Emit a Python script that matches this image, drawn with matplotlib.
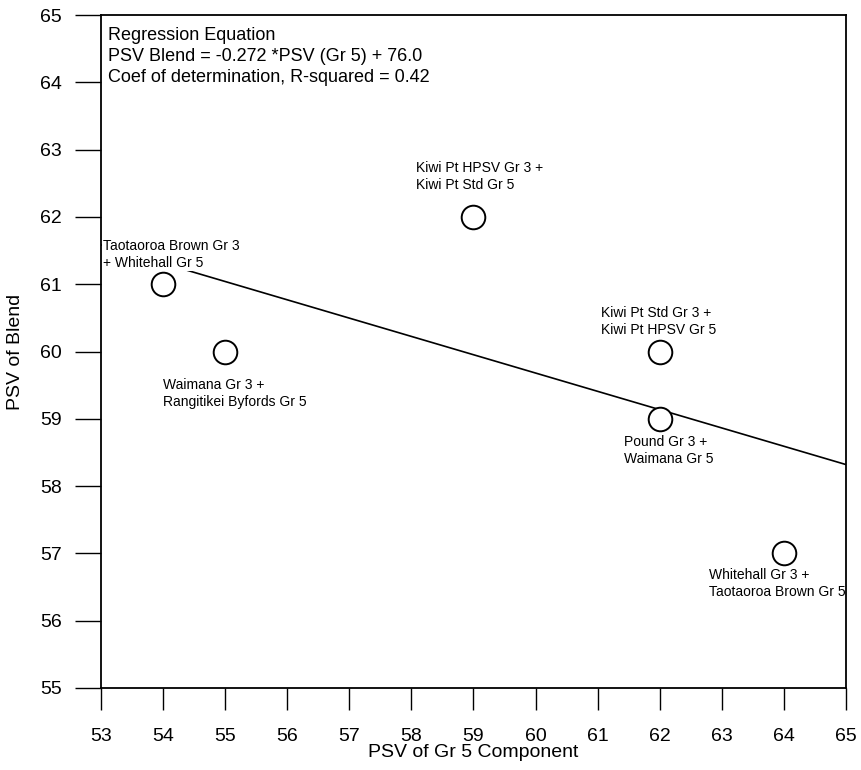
import numpy as np
import matplotlib
matplotlib.use("Agg")
import matplotlib.pyplot as plt

plt.rcParams['font.family'] = ['Liberation Sans', 'DejaVu Sans']

# data: PSV of Gr 5 component vs PSV of blend
psv_gr5 = [54, 55, 59, 62, 62, 64]
psv_blend = [61, 60, 62, 60, 59, 57]
blend_names = [
    "Taotaoroa Brown Gr 3\n+ Whitehall Gr 5",
    "Waimana Gr 3 +\nRangitikei Byfords Gr 5",
    "Kiwi Pt HPSV Gr 3 +\nKiwi Pt Std Gr 5",
    "Kiwi Pt Std Gr 3 +\nKiwi Pt HPSV Gr 5",
    "Pound Gr 3 +\nWaimana Gr 5",
    "Whitehall Gr 3 +\nTaotaoroa Brown Gr 5",
]
# label anchor (left, centre) in data units
label_x = [53.03, 54.0, 58.08, 61.05, 61.42, 62.79]
label_y = [61.44, 59.38, 62.60, 60.45, 58.53, 56.55]

slope = -0.272
intercept = 76.0
r_squared = 0.42

x_ticks = np.arange(53, 66, 1)
y_ticks = np.arange(55, 66, 1)

fig = plt.figure(figsize=(8.62, 7.70), dpi=100)
ax = fig.add_axes([0.1172, 0.1065, 0.8642, 0.874])

# regression line across the whole axis
xr = np.array([x_ticks[0], x_ticks[-1]])
ax.plot(xr, slope * xr + intercept, color='black', lw=1.2, zorder=1)

ax.plot(psv_gr5, psv_blend, 'o', ms=17, mfc='white', mec='black', mew=1.4, zorder=3)

for name, lx, ly in zip(blend_names, label_x, label_y):
    ax.text(lx, ly, name, fontsize=10, ha='left', va='center', linespacing=1.3,
            bbox=dict(facecolor='white', edgecolor='none', pad=0.5), zorder=2)

ax.text(0.009, 0.982,
        "Regression Equation\n"
        "PSV Blend = %.3f *PSV (Gr 5) + %.1f\n"
        "Coef of determination, R-squared = %.2f" % (slope, intercept, r_squared),
        transform=ax.transAxes, fontsize=13, ha='left', va='top', linespacing=1.3)

ax.set_xlim(53, 65)
ax.set_ylim(55, 65)
ax.set_xticks(x_ticks)
ax.set_yticks(y_ticks)
ax.tick_params(axis='x', direction='out', length=16, width=1.0, labelsize=14, pad=13)
ax.tick_params(axis='y', direction='out', length=19, width=1.0, labelsize=14, pad=9)
for sp in ax.spines.values():
    sp.set_linewidth(1.3)

ax.set_xlabel("PSV of Gr 5 Component", fontsize=14, labelpad=-1)
ax.set_ylabel("PSV of Blend", fontsize=14)
ax.yaxis.set_label_coords(-0.103, 0.5)

fig.savefig("out.png", dpi=100)
